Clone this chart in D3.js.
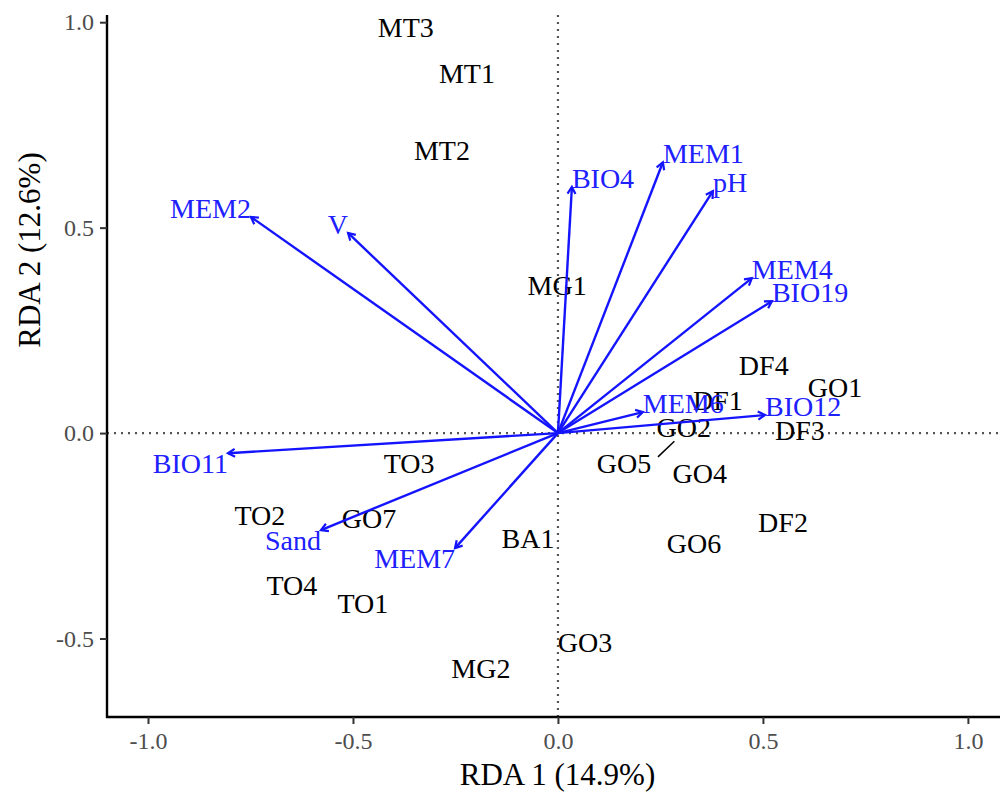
<!DOCTYPE html>
<html><head><meta charset="utf-8">
<script src="https://cdn.jsdelivr.net/npm/d3@7"></script>
<style>body{margin:0;background:#fff}</style>
</head><body>
<svg id="c" width="1002" height="792"></svg>
<script>
// Environmental variable arrows (RDA biplot scores)
const envNames = ["MEM2","V","BIO4","MEM1","pH","MEM4","BIO19","MEM6","BIO12","BIO11","Sand","MEM7"];
const envRDA1  = [-0.749,-0.512,0.034,0.256,0.378,0.473,0.522,0.207,0.505,-0.805,-0.578,-0.251];
const envRDA2  = [0.526,0.487,0.599,0.659,0.589,0.377,0.321,0.051,0.044,-0.049,-0.236,-0.280];
// Site scores (label positions)
const siteNames = ["MT3","MT1","MT2","MG1","DF4","GO1","DF1","GO2","DF3","GO5","GO4","DF2","GO6","TO3","TO2","GO7","TO4","TO1","BA1","GO3","MG2"];
const siteRDA1  = [-0.371,-0.222,-0.283,-0.002,0.502,0.676,0.390,0.307,0.590,0.161,0.346,0.549,0.332,-0.363,-0.727,-0.461,-0.649,-0.476,-0.073,0.066,-0.188];
const siteRDA2  = [0.988,0.876,0.689,0.360,0.165,0.112,0.080,0.015,0.007,-0.073,-0.097,-0.217,-0.268,-0.073,-0.200,-0.207,-0.370,-0.414,-0.255,-0.508,-0.572];
// Repel segment (label -> point)
const segFrom = [[0.244,-0.058]];
const segTo   = [[0.284,-0.020]];
const xTicks = [-1.0,-0.5,0.0,0.5,1.0];
const yTicks = [-0.5,0.0,0.5,1.0];
const xTitle = "RDA 1 (14.9%)";
const yTitle = "RDA 2 (12.6%)";

const svg = d3.select("#c");
const font = "'Liberation Serif','Times New Roman',serif";
const L=107, R=1000, T=15, B=717;
const x = d3.scaleLinear().domain([-1.1,1.0783]).range([L,R]);
const y = d3.scaleLinear().domain([-0.691,1.0175]).range([B,T]);

// reference lines
svg.append("line").attr("x1",x(0)).attr("x2",x(0)).attr("y1",T).attr("y2",B)
  .attr("stroke","#555").attr("stroke-width",2.2).attr("stroke-dasharray","2,5");
svg.append("line").attr("x1",L).attr("x2",R).attr("y1",y(0)).attr("y2",y(0))
  .attr("stroke","#555").attr("stroke-width",2.2).attr("stroke-dasharray","2,5");

// axes
const xAxis = svg.append("g").attr("transform",`translate(0,${B})`)
  .call(d3.axisBottom(x).tickValues(xTicks).tickFormat(d3.format(".1f")).tickSizeOuter(0).tickSize(7).tickPadding(8));
const yAxis = svg.append("g").attr("transform",`translate(${L},0)`)
  .call(d3.axisLeft(y).tickValues(yTicks).tickFormat(d3.format(".1f")).tickSizeOuter(0).tickSize(7).tickPadding(6));
[xAxis,yAxis].forEach(g=>{
  g.select(".domain").attr("stroke","#000").attr("stroke-width",2.4);
  g.selectAll(".tick line").attr("stroke","#333").attr("stroke-width",2);
  g.selectAll(".tick text").attr("fill","#4d4d4d").style("font-family",font).style("font-size","24px");
});
xAxis.selectAll(".tick text").text(d=>d3.format(".1f")(d).replace("−","-"));
yAxis.selectAll(".tick text").text(d=>d3.format(".1f")(d).replace("−","-"));
xAxis.select(".domain").attr("d",`M${L-1},0H${R}`);
yAxis.select(".domain").attr("d",`M0,${T}V${B+1}`);

svg.append("text").attr("x",(L+R)/2+4).attr("y",785).attr("text-anchor","middle")
  .style("font-family",font).style("font-size","31px").attr("fill","#000").text(xTitle);
svg.append("text").attr("transform","translate(40,250) rotate(-90)").attr("text-anchor","middle")
  .style("font-family",font).style("font-size","31px").attr("fill","#000").text(yTitle);

// site labels
const sites = siteNames.map((n,i)=>({n, a:siteRDA1[i], b:siteRDA2[i]}));
svg.append("g").selectAll("text").data(sites).join("text")
  .attr("x",d=>x(d.a)).attr("y",d=>y(d.b)).attr("dy","0.35em").attr("text-anchor","middle")
  .style("font-family",font).style("font-size","28px").attr("fill","#000").text(d=>d.n);
// repel segments
svg.append("g").selectAll("line").data(segFrom.map((f,i)=>({f,t:segTo[i]}))).join("line")
  .attr("x1",d=>x(d.f[0])).attr("y1",d=>y(d.f[1])).attr("x2",d=>x(d.t[0])).attr("y2",d=>y(d.t[1]))
  .attr("stroke","#000").attr("stroke-width",1.5);

// env arrows
const env = envNames.map((n,i)=>({n, a:envRDA1[i], b:envRDA2[i]}));
const ag = svg.append("g");
env.forEach(d=>{
  const x0=x(0), y0=y(0), x1=x(d.a), y1=y(d.b);
  ag.append("line").attr("x1",x0).attr("y1",y0).attr("x2",x1).attr("y2",y1)
    .attr("stroke","#1414ff").attr("stroke-width",2.4);
  const ang=Math.atan2(y1-y0,x1-x0), len=8, sp=Math.PI/6;
  const p1=[x1-len*Math.cos(ang-sp), y1-len*Math.sin(ang-sp)];
  const p2=[x1-len*Math.cos(ang+sp), y1-len*Math.sin(ang+sp)];
  ag.append("path").attr("d",`M${p1[0]},${p1[1]}L${x1},${y1}L${p2[0]},${p2[1]}`)
    .attr("fill","none").attr("stroke","#1414ff").attr("stroke-width",2.2);
});
svg.append("g").selectAll("text").data(env).join("text")
  .attr("x",d=>x(d.a)).attr("y",d=>y(d.b))
  .attr("dy",d=>d.b>0?"0.02em":"0.72em")
  .attr("text-anchor",d=>d.a>0?"start":"end")
  .style("font-family",font).style("font-size","28px").attr("fill","#2020ff").text(d=>d.n);
</script>
</body></html>
